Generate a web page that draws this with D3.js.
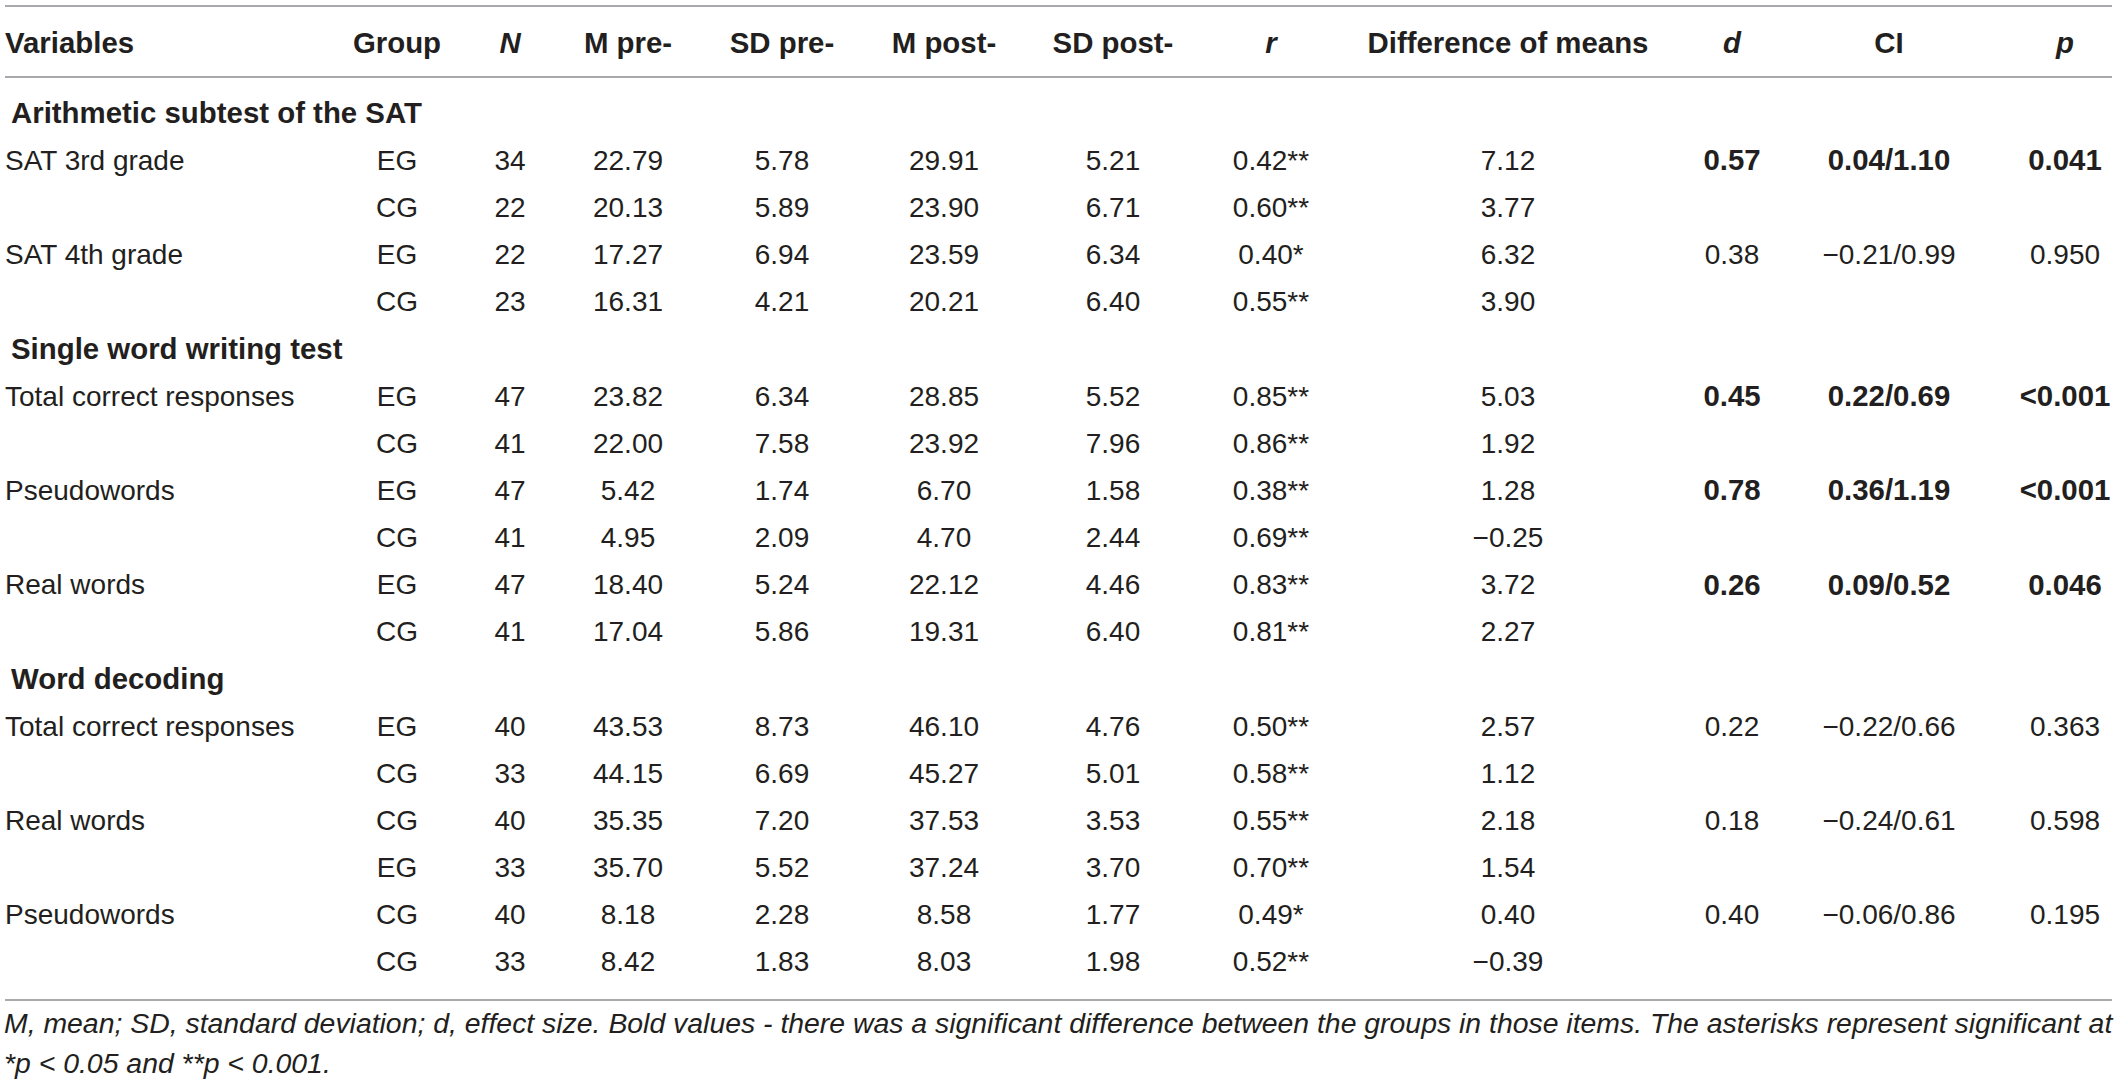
<!DOCTYPE html>
<html>
<head>
<meta charset="utf-8">
<script src="https://cdn.jsdelivr.net/npm/d3@7"></script>
<style>
    body { margin: 0; background: #fff; }
    svg text { font-family: "Liberation Sans", Arial, Helvetica, sans-serif; fill: #231f20; }
</style>
</head>
<body>
<div id="table"></div>
<script>
// header labels (italic ones are statistics symbols)
const headers = ["Variables", "Group", "N", "M pre-", "SD pre-", "M post-", "SD post-", "r", "Difference of means", "d", "CI", "p"]
const italicHeaders = ["N", "r", "d", "p"]

const sectionTitles = ["Arithmetic subtest of the SAT", "Single word writing test", "Word decoding"]
const variableNames = [
    ["SAT 3rd grade", "SAT 4th grade"],
    ["Total correct responses", "Pseudowords", "Real words"],
    ["Total correct responses", "Real words", "Pseudowords"]
]

// one entry per group row (two per variable)
const groups = ["EG", "CG", "EG", "CG", "EG", "CG", "EG", "CG", "EG", "CG", "EG", "CG", "CG", "EG", "CG", "CG"]
const nValues = [34, 22, 22, 23, 47, 41, 47, 41, 47, 41, 40, 33, 40, 33, 40, 33]
const mPre = [22.79, 20.13, 17.27, 16.31, 23.82, 22.00, 5.42, 4.95, 18.40, 17.04, 43.53, 44.15, 35.35, 35.70, 8.18, 8.42]
const sdPre = [5.78, 5.89, 6.94, 4.21, 6.34, 7.58, 1.74, 2.09, 5.24, 5.86, 8.73, 6.69, 7.20, 5.52, 2.28, 1.83]
const mPost = [29.91, 23.90, 23.59, 20.21, 28.85, 23.92, 6.70, 4.70, 22.12, 19.31, 46.10, 45.27, 37.53, 37.24, 8.58, 8.03]
const sdPost = [5.21, 6.71, 6.34, 6.40, 5.52, 7.96, 1.58, 2.44, 4.46, 6.40, 4.76, 5.01, 3.53, 3.70, 1.77, 1.98]
const rValues = [0.42, 0.60, 0.40, 0.55, 0.85, 0.86, 0.38, 0.69, 0.83, 0.81, 0.50, 0.58, 0.55, 0.70, 0.49, 0.52]
const rStars = ["**", "**", "*", "**", "**", "**", "**", "**", "**", "**", "**", "**", "**", "**", "*", "**"]
const diffMeans = [7.12, 3.77, 6.32, 3.90, 5.03, 1.92, 1.28, -0.25, 3.72, 2.27, 2.57, 1.12, 2.18, 1.54, 0.40, -0.39]

// one entry per variable (shown on the first group row)
const dValues = [0.57, 0.38, 0.45, 0.78, 0.26, 0.22, 0.18, 0.40]
const ciLow = [0.04, -0.21, 0.22, 0.36, 0.09, -0.22, -0.24, -0.06]
const ciHigh = [1.10, 0.99, 0.69, 1.19, 0.52, 0.66, 0.61, 0.86]
const pValues = [0.041, 0.950, 0.001, 0.001, 0.046, 0.363, 0.598, 0.195]
const pBelow = [false, false, true, true, false, false, false, false]
const significant = [true, false, true, true, true, false, false, false]

const footnote = [
    "M, mean; SD, standard deviation; d, effect size. Bold values - there was a significant difference between the groups in those items. The asterisks represent significant at",
    "*p < 0.05 and **p < 0.001."
]

var width = 2118,
    height = 1086,
    fontSize = 28,
    boldSize = 29.4,
    noteSize = 28.4,
    f2 = d3.format(".2f"),
    f3 = d3.format(".3f")

// column layout: centre of each column (first one is left aligned)
const colKeys = headers
const x = d3.scaleOrdinal()
    .domain(colKeys)
    .range([5, 397, 510, 628, 782, 944, 1113, 1271, 1508, 1732, 1889, 2065])

// build the row list: section title rows + group rows
let rows = []
let g = 0, v = 0
sectionTitles.forEach(function(title, s) {
    rows.push({ type: 'section', label: title })
    variableNames[s].forEach(function(name) {
        for (let k = 0; k < 2; k++) {
            let cells = [k === 0 ? name : "", groups[g], String(nValues[g]), f2(mPre[g]), f2(sdPre[g]),
                f2(mPost[g]), f2(sdPost[g]), f2(rValues[g]) + rStars[g], f2(diffMeans[g])]
            if (k === 0) {
                cells.push(f2(dValues[v]), f2(ciLow[v]) + "/" + f2(ciHigh[v]), (pBelow[v] ? "<" : "") + f3(pValues[v]))
            } else {
                cells.push("", "", "")
            }
            rows.push({ type: 'data', cells: cells, bold: significant[v] })
            g++
        }
        v++
    })
})

const y = d3.scaleLinear()
    .domain([0, rows.length - 1])
    .range([112.7, 112.7 + (rows.length - 1) * 47.15])

const svg = d3.select('#table').append('svg')
    .attr('width', width)
    .attr('height', height)

// rules
const rules = [6, 77, 1000]
svg.selectAll('line.rule')
    .data(rules)
    .join('line')
    .attr('class', 'rule')
    .attr('x1', 5)
    .attr('x2', 2112)
    .attr('y1', d => d)
    .attr('y2', d => d)
    .attr('stroke', '#a7a9ac')
    .attr('stroke-width', 2)

// header
svg.append('g').selectAll('text')
    .data(headers)
    .join('text')
    .attr('x', d => x(d))
    .attr('y', 42)
    .attr('dy', '0.36em')
    .attr('text-anchor', (d, i) => i === 0 ? 'start' : 'middle')
    .attr('font-size', boldSize)
    .attr('font-weight', 'bold')
    .attr('font-style', d => italicHeaders.includes(d) ? 'italic' : 'normal')
    .text(d => d)

// body
const body = svg.append('g')
rows.forEach(function(row, i) {
    if (row.type === 'section') {
        body.append('text')
            .attr('x', 11)
            .attr('y', y(i))
            .attr('dy', '0.36em')
            .attr('font-size', boldSize)
            .attr('font-weight', 'bold')
            .text(row.label)
        return
    }
    body.append('g').selectAll('text')
        .data(row.cells)
        .join('text')
        .attr('x', (d, j) => x(colKeys[j]))
        .attr('y', y(i))
        .attr('dy', '0.36em')
        .attr('text-anchor', (d, j) => j === 0 ? 'start' : 'middle')
        .attr('font-size', (d, j) => j >= 9 && row.bold ? boldSize : fontSize)
        .attr('font-weight', (d, j) => j >= 9 && row.bold ? 'bold' : 'normal')
        .text(d => d)
})

// footnote
svg.append('g').selectAll('text')
    .data(footnote)
    .join('text')
    .attr('x', 4)
    .attr('y', (d, i) => 1033 + i * 40)
    .attr('font-size', noteSize)
    .attr('font-style', 'italic')
    .text(d => d)
</script>
</body>
</html>
